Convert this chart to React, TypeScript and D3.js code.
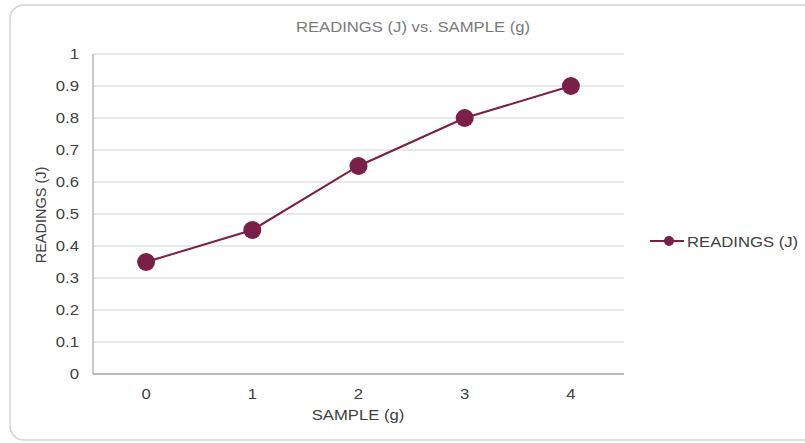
import React, { useEffect, useRef } from 'react';
import * as d3 from 'd3';

// data
const samples = ['0', '1', '2', '3', '4'];
const readings = [0.35, 0.45, 0.65, 0.8, 0.9];
const yTicks = [0, 0.1, 0.2, 0.3, 0.4, 0.5, 0.6, 0.7, 0.8, 0.9, 1];
const seriesName = 'READINGS (J)';
const chartTitle = 'READINGS (J) vs. SAMPLE (g)';
const xTitle = 'SAMPLE (g)';
const yTitle = 'READINGS (J)';

const W = 805, H = 443;
const COLOR = '#7a1f48';
const FONT = '"Liberation Sans", Arial, sans-serif';
const FS = 14.5;
const SX = 1.15; // the picture is a bit stretched sideways

export default function App() {
  const ref = useRef<SVGSVGElement>(null);

  useEffect(() => {
    const svg = d3.select(ref.current);
    svg.selectAll('*').remove();

    const left = 93, right = 624, top = 54, bottom = 374;

    const x = d3.scaleBand().domain(samples).range([left, right]);
    const y = d3.scaleLinear().domain([0, 1]).range([bottom, top]);

    const label = (g: any, tx: number, ty: number, anchor: string, txt: string, fill = '#404040') =>
      g.append('text')
        .attr('transform', `translate(${tx},${ty}) scale(${SX},1)`)
        .attr('dy', '0.35em')
        .attr('text-anchor', anchor)
        .attr('font-family', FONT).attr('font-size', FS)
        .attr('fill', fill)
        .text(txt);

    // outer box
    svg.append('rect')
      .attr('x', 10).attr('y', 5)
      .attr('width', 820).attr('height', 435)
      .attr('rx', 14)
      .attr('fill', 'white')
      .attr('stroke', '#d4d4d4')
      .attr('stroke-width', 1.5);

    label(svg, 413, 27, 'middle', chartTitle, '#7a7a7a');

    // gridlines
    svg.append('g').selectAll('line')
      .data(yTicks.filter(t => t > 0))
      .enter().append('line')
      .attr('x1', left).attr('x2', right)
      .attr('y1', d => y(d)).attr('y2', d => y(d))
      .attr('stroke', '#e0e0e0').attr('stroke-width', 1.5);

    // axes
    svg.append('line')
      .attr('x1', left).attr('x2', left)
      .attr('y1', top).attr('y2', bottom)
      .attr('stroke', '#a6a6a6').attr('stroke-width', 1.2);
    svg.append('line')
      .attr('x1', left).attr('x2', right)
      .attr('y1', bottom).attr('y2', bottom)
      .attr('stroke', '#a6a6a6').attr('stroke-width', 1.5);

    yTicks.forEach(t => label(svg, 79, y(t), 'end', d3.format('~g')(t)));
    samples.forEach(s => label(svg, (x(s) as number) + x.bandwidth() / 2, 394, 'middle', s));

    label(svg, 358, 415, 'middle', xTitle);

    svg.append('text')
      .attr('transform', `translate(41,${(top + bottom) / 2 + 1}) rotate(-90)`)
      .attr('dy', '0.35em')
      .attr('text-anchor', 'middle')
      .attr('font-family', FONT).attr('font-size', FS)
      .attr('fill', '#404040')
      .text(yTitle);

    const pts: [number, number][] = samples.map((s, i) => [
      (x(s) as number) + x.bandwidth() / 2, y(readings[i])
    ]);

    svg.append('path')
      .attr('d', d3.line()(pts))
      .attr('fill', 'none')
      .attr('stroke', COLOR)
      .attr('stroke-width', 2);

    svg.append('g').selectAll('circle')
      .data(pts)
      .enter().append('circle')
      .attr('cx', d => d[0]).attr('cy', d => d[1])
      .attr('r', 9)
      .attr('fill', COLOR);

    // legend
    const ly = 241;
    svg.append('line')
      .attr('x1', 650).attr('x2', 684)
      .attr('y1', ly).attr('y2', ly)
      .attr('stroke', COLOR).attr('stroke-width', 2);
    svg.append('circle')
      .attr('cx', 669).attr('cy', ly).attr('r', 5)
      .attr('fill', COLOR);
    label(svg, 687, ly + 1, 'start', seriesName);
  }, []);

  return (
    <svg ref={ref} width={W} height={H}
      style={{ position: 'absolute', left: 0, top: 0, background: 'white' }} />
  );
}
